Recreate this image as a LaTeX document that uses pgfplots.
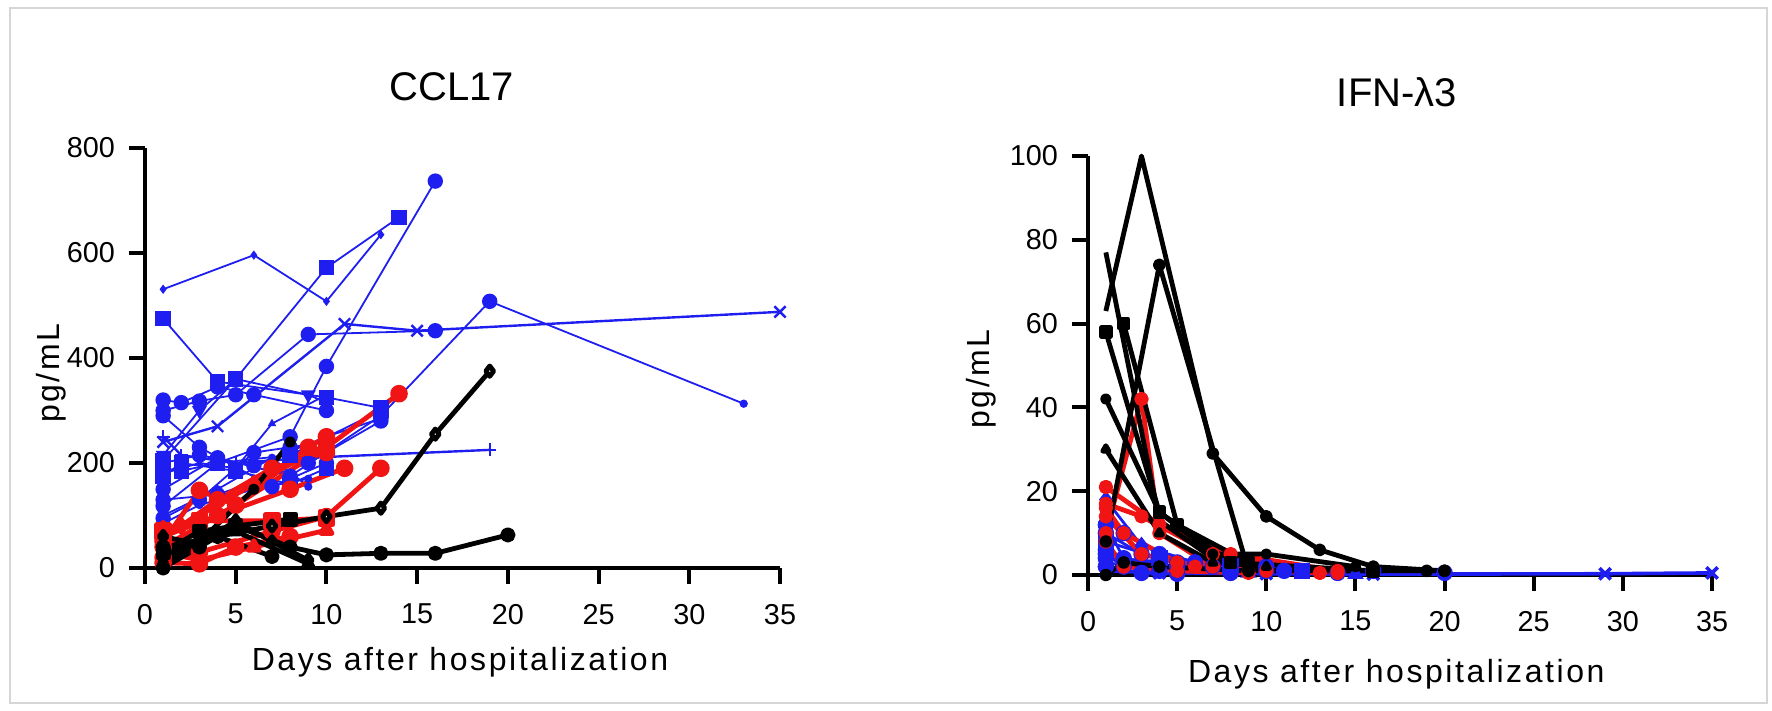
\documentclass[border=0pt]{standalone}
\usepackage{fontspec}
\setmainfont{Liberation Sans}
\newfontfamily\spaced[LetterSpace=8]{Liberation Sans}
\usepackage{pgfplots}
\pgfplotsset{compat=1.18}
\definecolor{pblue}{HTML}{1E1EF0}
\definecolor{pred}{HTML}{F01414}
\definecolor{framegray}{HTML}{D6D6D6}

\pgfplotsset{
  prism/.style={
    scale only axis, axis lines=left, axis line style={line width=1pt, -},
    xmin=0, xmax=35, xtick={0,5,...,35},
    tick style={black, line width=1pt}, tick align=outside, major tick length=4pt,
    ticklabel style={font=\fontsize{7.2}{8}\selectfont},
    xticklabel style={yshift=-1.5pt},
    /pgf/number format/assume math mode=true,
    label style={font=\spaced\fontsize{8}{9}\selectfont},
    title style={font=\fontsize{10}{12}\selectfont, anchor=center},
    clip=false,
  },
  bl/.style={pblue, line width=0.45pt, mark=*, mark size=1.7pt, mark options={solid}},
  bls/.style={bl, mark size=0.8pt},
  rd/.style={pred, line width=1.2pt, line join=round, mark=*, mark size=1.6pt, mark options={solid}},
  bk/.style={black, line width=1.2pt, line join=round, mark=*, mark size=1.3pt, mark options={solid}},
}

\begin{document}
\begin{tikzpicture}
\useasboundingbox (0,0) rectangle (443pt,177.5pt);
\draw[framegray, line width=0.5pt] (2.6pt,1.8pt) rectangle (441.8pt,175.6pt);

% CCL17
\begin{axis}[prism, at={(36.25pt,35.5pt)}, anchor=south west,
  width=158.75pt, height=105pt, ymin=0, ymax=800, ytick={0,200,...,800},
  title={CCL17}, title style={at={(axis description cs:0.483,1.088)}},
  xlabel={Days after hospitalization}, xlabel style={at={(axis description cs:0.496,-0.224)}, anchor=center},
  ylabel={pg/mL}, ylabel style={at={(axis description cs:-0.148,0.464)}, anchor=center}]
% blue
\addplot[bls, mark=diamond*] coordinates {(1,531) (6,596) (10,508) (13,635)};
\addplot[bl, mark=square*] coordinates {(1,205) (5,360) (10,572) (14,668)};
\addplot[bl] coordinates {(1,118) (4,200) (8,250) (10,384) (16,737)};
\addplot[bl, mark=x, mark size=2pt, line width=0.6pt] coordinates {(1,240) (4,270) (11,465) (15,452) (35,488)};
\addplot[bl] coordinates {(1,300) (3,318) (5,330) (9,445) (16,452)};
\addplot[bl] coordinates {(1,150) (4,210) (8,175) (13,290) (19,508)};
\addplot[bls] coordinates {(19,508) (33,313)};
\addplot[bl, mark=square*] coordinates {(1,475) (4,355) (10,325) (13,305)};
\addplot[bl, mark=triangle*, mark options={rotate=180}] coordinates {(1,215) (3,300) (5,360) (9,330) (10,315)};
\addplot[bl, mark=+, mark size=1.6pt, line width=0.6pt] coordinates {(1,250) (2,215) (5,200) (9,210) (19,225)};
\addplot[bl] coordinates {(1,320) (2,315) (4,345) (6,330) (10,300)};
\addplot[bls, mark=triangle*] coordinates {(1,180) (3,200) (5,190) (7,275) (10,330)};
\addplot[bl] coordinates {(1,95) (3,130) (6,220) (8,230) (10,240)};
\addplot[bl, mark=square*] coordinates {(1,175) (2,200) (5,185) (8,160) (10,190)};
\addplot[bl] coordinates {(1,200) (3,215) (6,195) (10,250) (13,285)};
\addplot[bls] coordinates {(1,100) (4,150) (7,210) (9,155)};
\addplot[bl] coordinates {(1,290) (3,230) (7,155) (10,200)};
\addplot[bl] coordinates {(1,130) (4,140) (9,200) (13,280)};
\addplot[bl, mark=square*] coordinates {(1,190) (2,185) (4,200) (8,215) (13,300)};
\addplot[bls] coordinates {(1,85) (3,120) (6,150) (9,170)};
% red
\addplot[rd] coordinates {(1,40) (5,120) (10,230) (14,332)};
\addplot[rd] coordinates {(1,60) (4,100) (8,150) (11,190)};
\addplot[rd] coordinates {(1,20) (3,30) (7,70) (10,98) (13,190)};
\addplot[rd, mark=square*] coordinates {(1,70) (3,90) (7,90) (10,95)};
\addplot[rd, mark=triangle*] coordinates {(1,30) (3,15) (6,40) (10,72)};
\addplot[rd] coordinates {(1,50) (3,148) (5,120) (9,230) (10,250)};
\addplot[rd, mark=diamond*] coordinates {(1,75) (2,80) (6,160) (10,235)};
\addplot[rd] coordinates {(1,10) (3,8) (5,40) (8,60)};
\addplot[rd] coordinates {(1,55) (4,130) (7,190) (10,220)};
% black
\addplot[bk] coordinates {(1,0) (3,40) (5,80) (8,40) (10,25) (13,28) (16,28) (20,63)};
\addplot[bk, mark=diamond*, mark options={fill=white}] coordinates {(1,20) (4,60) (7,80) (10,98) (13,114) (16,255) (19,375)};
\addplot[bk, mark=square*] coordinates {(1,30) (3,70) (5,80) (8,93)};
\addplot[bk, mark size=0.8pt] coordinates {(1,10) (3,50) (6,150) (8,240)};
\addplot[bk] coordinates {(1,40) (4,60) (7,22)};
\addplot[bk, mark=triangle*] coordinates {(1,30) (5,70) (9,8)};
\addplot[bk, mark=diamond*] coordinates {(1,60) (3,45) (5,90) (7,50) (9,15)};
\end{axis}

% IFN-lambda3
\begin{axis}[prism, at={(272pt,33.75pt)}, anchor=south west,
  width=156pt, height=104.75pt, ymin=0, ymax=100, ytick={0,20,...,100},
  title={IFN-λ3}, title style={at={(axis description cs:0.495,1.096)}},
  xlabel={Days after hospitalization}, xlabel style={at={(axis description cs:0.494,-0.236)}, anchor=center},
  ylabel={pg/mL}, ylabel style={at={(axis description cs:-0.171,0.468)}, anchor=center}]
% blue
\addplot[bl, mark=x, mark size=2pt, line width=0.9pt] coordinates {(1,1) (4,0.5) (10,0.3) (16,0.2) (29,0.3) (35,0.5)};
\addplot[bl, line width=0.7pt] coordinates {(1,10) (3,5) (6,3) (10,2) (16,1)};
\addplot[bl, line width=0.7pt, mark=square*] coordinates {(1,8) (4,4) (8,2) (12,1)};
\addplot[bl, line width=0.7pt] coordinates {(1,5) (2,2) (4,1) (8,0.5)};
\addplot[bl, line width=0.7pt, mark=triangle*] coordinates {(1,3) (4,1) (9,0.5) (15,0.2)};
\addplot[bl, line width=0.7pt] coordinates {(1,2) (3,0.5) (5,0.3)};
\addplot[bl, line width=0.7pt] coordinates {(1,12) (2,4) (5,2) (11,1)};
\addplot[bl, line width=0.7pt, mark=diamond*] coordinates {(1,18) (3,7) (6,3) (9,1)};
\addplot[bl, line width=0.7pt] coordinates {(1,6) (2,10) (4,5) (7,2) (14,0.5)};
\addplot[bl, line width=0.7pt] coordinates {(1,4) (5,3) (10,1) (20,0.5)};
% red
\addplot[rd, mark size=1.2pt] coordinates {(1,10) (3,42) (4,10) (7,2)};
\addplot[rd, mark size=1.2pt] coordinates {(1,21) (4,12) (8,5) (14,1)};
\addplot[rd, mark size=1.2pt] coordinates {(1,17) (3,14) (7,5) (14,0.5)};
\addplot[rd, mark size=1.2pt] coordinates {(1,16) (2,10) (5,3) (10,1)};
\addplot[rd, mark size=1.2pt] coordinates {(1,14) (3,5) (6,2) (13,0.5)};
\addplot[rd, mark size=1.2pt] coordinates {(1,8) (2,2) (5,1) (9,0.5)};
% black
\addplot[bk, mark=none] coordinates {(1,63) (3,100) (7,29) (10,14) (13,6) (16,2) (20,1)};
\addplot[bk, only marks, mark size=1pt] coordinates {(7,29) (10,14) (13,6) (16,2) (20,1)};
\addplot[bk, mark size=1pt] coordinates {(1,8) (4,74) (9,1) (16,1)};
\addplot[bk, mark=none] coordinates {(1,77) (4,13) (7,4) (10,2)};
\addplot[bk, mark=square*, mark size=1.1pt] coordinates {(1,58) (4,15) (8,3) (16,1)};
\addplot[bk, mark=square*, mark size=1.1pt] coordinates {(2,60) (5,12) (9,3)};
\addplot[bk, mark size=0.8pt] coordinates {(1,42) (4,15) (7,5) (10,5) (15,2)};
\addplot[bk, mark=triangle*, mark size=0.9pt] coordinates {(1,30) (4,10) (7,3) (10,2)};
\addplot[bk, mark size=1pt] coordinates {(1,0) (2,3) (4,2) (9,1) (19,1) (20,1)};
\end{axis}
\end{tikzpicture}
\end{document}
